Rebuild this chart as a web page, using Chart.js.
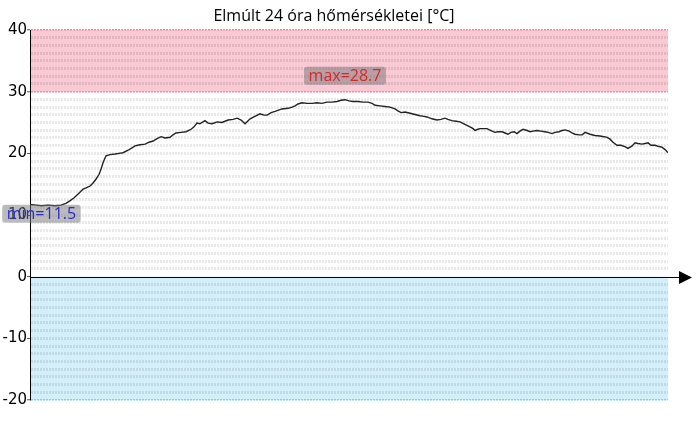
<!DOCTYPE html>
<html><head><meta charset="utf-8">
<script src="https://cdn.jsdelivr.net/npm/chart.js@4.4.0/dist/chart.umd.min.js"></script>
<style>html,body{margin:0;padding:0;background:#fff}</style>
</head><body>
<canvas id="c" width="700" height="430"></canvas>
<script>
// Hours elapsed over the last 24 h
const hours = [0,0.23,0.43,0.68,0.94,1.17,1.35,1.50,1.66,1.81,2.00,2.11,2.26,2.37,2.48,2.60,2.67,2.75,2.86,3.01,3.20,3.35,3.50,3.69,3.84,3.95,4.14,4.33,4.48,4.63,4.78,4.93,5.08,5.27,5.38,5.49,5.68,5.87,6.06,6.17,6.28,6.39,6.58,6.70,6.85,7.04,7.22,7.45,7.64,7.79,7.94,8.09,8.28,8.46,8.65,8.80,8.92,9.07,9.22,9.48,9.71,9.86,9.97,10.08,10.23,10.42,10.61,10.80,10.98,11.17,11.36,11.55,11.70,11.85,12.00,12.15,12.34,12.53,12.71,12.87,12.98,13.17,13.35,13.54,13.73,13.84,13.96,14.11,14.30,14.48,14.67,14.82,14.93,15.12,15.31,15.46,15.61,15.72,15.87,16.03,16.18,16.36,16.55,16.67,16.74,16.85,16.93,17.08,17.19,17.34,17.49,17.60,17.76,17.87,17.98,18.09,18.21,18.32,18.43,18.55,18.70,18.81,18.92,19.07,19.22,19.37,19.49,19.64,19.75,19.90,20.01,20.13,20.28,20.39,20.50,20.65,20.77,20.88,21.07,21.25,21.44,21.59,21.71,21.82,21.93,22.08,22.23,22.38,22.50,22.65,22.76,22.87,23.02,23.14,23.25,23.36,23.51,23.66,23.77,23.89,24.00];
// Temperatures [°C]
const temps = [11.7,11.6,11.5,11.6,11.5,11.6,11.9,12.3,12.8,13.4,14.2,14.4,14.7,15.2,15.8,16.6,17.4,18.5,19.6,19.8,19.9,20.0,20.1,20.5,20.9,21.2,21.4,21.5,21.8,22.0,22.4,22.7,22.5,22.6,23.0,23.3,23.4,23.5,23.9,24.3,24.9,24.8,25.3,24.9,24.8,25.1,25.0,25.4,25.5,25.7,25.4,24.8,25.6,26.0,26.4,26.2,26.2,26.6,26.8,27.2,27.3,27.5,27.7,28.0,28.2,28.1,28.1,28.2,28.1,28.3,28.3,28.4,28.6,28.7,28.5,28.4,28.4,28.3,28.3,28.1,27.8,27.7,27.6,27.5,27.2,26.9,26.6,26.7,26.5,26.3,26.1,26.0,25.9,25.6,25.4,25.5,25.7,25.5,25.3,25.2,25.1,24.7,24.3,24.0,23.7,23.9,24.0,24.0,24.0,23.7,23.4,23.5,23.5,23.3,23.1,23.4,23.5,23.2,23.6,23.9,23.7,23.5,23.6,23.7,23.6,23.5,23.4,23.2,23.4,23.5,23.7,23.8,23.6,23.3,23.1,23.0,23.0,23.4,23.1,22.9,22.8,22.7,22.6,22.3,21.8,21.3,21.3,21.1,20.8,21.2,21.7,21.6,21.5,21.6,21.7,21.3,21.3,21.1,21.0,20.6,20.1];
// Y axis
const yTickLabels = [-20,-10,0,10,20,30,40];
const yMin = -20, yMax = 40, gridStep = 1.25;
const hotBand = [30, 40];
const coldBand = [-20, 0];
const titleText = 'Elmúlt 24 óra hőmérsékletei [°C]';

const bandsPlugin = {
  id: 'bands',
  beforeDraw(chart) {
    const {ctx, chartArea: a, scales: {y}} = chart;
    ctx.save();
    let t = y.getPixelForValue(hotBand[1]), b = y.getPixelForValue(hotBand[0]);
    ctx.fillStyle = '#f9c9d4';
    ctx.fillRect(a.left, t, a.right - a.left, b - t);
    t = y.getPixelForValue(coldBand[1]); b = y.getPixelForValue(coldBand[0]);
    ctx.fillStyle = '#d3eff9';
    ctx.fillRect(a.left, t, a.right - a.left, b - t);
    ctx.restore();
  },
  afterDraw(chart) {
    const {ctx, chartArea: a, scales: {x, y}} = chart;
    ctx.save();
    // x axis with arrow at value 0
    const y0 = Math.round(y.getPixelForValue(0)) + 0.5;
    ctx.strokeStyle = '#000'; ctx.lineWidth = 1;
    ctx.beginPath(); ctx.moveTo(a.left, y0); ctx.lineTo(a.right + 14, y0); ctx.stroke();
    ctx.fillStyle = '#000';
    ctx.beginPath(); ctx.moveTo(a.right + 11, y0 - 6.5); ctx.lineTo(a.right + 24, y0); ctx.lineTo(a.right + 11, y0 + 6.5); ctx.closePath(); ctx.fill();
    // min / max labels
    let iMax = 0, iMin = 0;
    temps.forEach((v, i) => { if (v > temps[iMax]) iMax = i; if (v < temps[iMin]) iMin = i; });
    const drawLabel = (i, txt, color, dy) => {
      ctx.font = '16px "Open Sans"';
      const w = ctx.measureText(txt).width + 9, h = 18;
      const cx = x.getPixelForValue(hours[i]);
      const cy = y.getPixelForValue(temps[i]) + dy;
      ctx.fillStyle = 'rgba(120,120,120,0.5)';
      ctx.beginPath(); ctx.roundRect(cx - w / 2, cy - h / 2, w, h, 3); ctx.fill();
      ctx.fillStyle = color; ctx.textAlign = 'center'; ctx.textBaseline = 'middle';
      ctx.fillText(txt, cx, cy + 1);
    };
    drawLabel(iMax, 'max=' + temps[iMax], '#d42a2a', -24);
    drawLabel(iMin, 'min=' + temps[iMin], '#2a2ad4', 8);
    ctx.restore();
  }
};

new Chart(document.getElementById('c'), {
  type: 'line',
  data: {
    datasets: [{
      data: hours.map((h, i) => ({x: h, y: temps[i]})),
      borderColor: '#222', borderWidth: 1.4, pointRadius: 0, tension: 0, fill: false
    }]
  },
  options: {
    responsive: false, animation: false, devicePixelRatio: 1,
    layout: {padding: {left: 0, right: 32, top: 0, bottom: 30}},
    plugins: {
      legend: {display: false}, tooltip: {enabled: false},
      title: {display: true, text: titleText, color: '#000',
        font: {family: '"Open Sans"', size: 16, weight: 'normal', lineHeight: 1.2},
        padding: {top: 7, bottom: 3.8}}
    },
    scales: {
      x: {type: 'linear', min: 0, max: 24, display: false},
      y: {
        min: yMin, max: yMax,
        afterFit(s) { s.width = 30; },
        afterBuildTicks(s) {
          const t = [];
          for (let v = yMin; v <= yMax + 1e-9; v += gridStep) t.push({value: Math.round(v * 100) / 100});
          s.ticks = t;
        },
        ticks: {
          autoSkip: false, padding: 0, color: '#000',
          font: {family: '"DejaVu Sans"', size: 15},
          callback: v => yTickLabels.includes(v) ? String(v) : ''
        },
        grid: {
          color: c => {
            const v = c.tick && c.tick.value;
            if (v === hotBand[0] || v === hotBand[1]) return '#f088a4';
            if (v === 0) return 'rgba(0,0,0,0)';
            if (v === coldBand[0]) return '#7fd0ee';
            return 'rgba(0,0,0,0.09)';
          },
          lineWidth: c => {
            const v = c.tick && c.tick.value;
            return (v === hotBand[0] || v === hotBand[1] || v === coldBand[0]) ? 1.5 : 3;
          },
          tickColor: c => (c.tick && yTickLabels.includes(c.tick.value)) ? '#555' : 'rgba(0,0,0,0)',
          tickLength: 3, tickWidth: 1
        },
        border: {color: '#000', width: 1, dash: [2, 1]}
      }
    }
  },
  plugins: [bandsPlugin]
});
</script>
</body></html>
